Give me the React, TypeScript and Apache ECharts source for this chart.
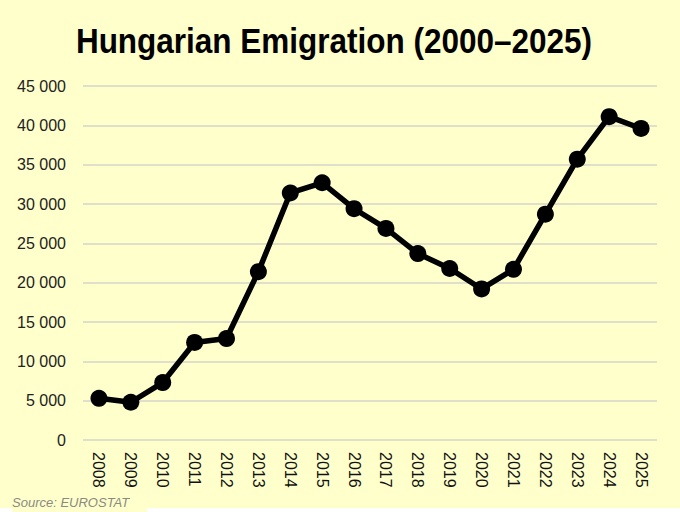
import React, { useEffect, useRef } from "react";
import * as echarts from "echarts";

const titleText = "Hungarian Emigration (2000–2025)";
const sourceText = "Source: EUROSTAT";
const years = ["2008", "2009", "2010", "2011", "2012", "2013", "2014", "2015", "2016", "2017", "2018", "2019", "2020", "2021", "2022", "2023", "2024", "2025"];
const emigrants = [5300, 4800, 7300, 12400, 12900, 21400, 31400, 32700, 29400, 26900, 23700, 21800, 19200, 21700, 28700, 35700, 41100, 39600];
const yMin = 0;
const yMax = 45000;
const yStep = 5000;

const fmt = (v: number) => String(v).replace(/\B(?=(\d{3})+(?!\d))/g, " ");

export default function App() {
  const ref = useRef<HTMLDivElement>(null);
  useEffect(() => {
    if (!ref.current) return;
    const chart = echarts.init(ref.current, undefined, { renderer: "svg" });
    chart.setOption({
      animation: false,
      backgroundColor: "#FFFFCC",
      grid: { left: 83, right: 23, top: 86, bottom: 72, containLabel: false },
      xAxis: {
        type: "category",
        data: years,
        boundaryGap: true,
        axisLine: { show: false },
        axisTick: { show: false },
        axisLabel: {
          rotate: -90,
          margin: 12,
          color: "#111",
          fontSize: 16,
          fontFamily: "Liberation Sans, Arial, sans-serif",
          interval: 0,
        },
      },
      yAxis: {
        type: "value",
        min: yMin,
        max: yMax,
        interval: yStep,
        axisLine: { show: false },
        axisTick: { show: false },
        splitLine: { lineStyle: { color: "#d4d4cc", width: 1.5 } },
        axisLabel: {
          margin: 17,
          color: "#222",
          fontSize: 16,
          fontFamily: "Liberation Sans, Arial, sans-serif",
          formatter: (v: number) => fmt(v),
        },
      },
      series: [
        {
          type: "line",
          data: emigrants,
          symbol: "circle",
          symbolSize: 17,
          lineStyle: { color: "#000", width: 5.5 },
          itemStyle: { color: "#000" },
          z: 3,
        },
      ],
      graphic: [
        {
          type: "text",
          x: 334,
          y: 41,
          scaleX: 0.9,
          style: {
            text: titleText,
            fontFamily: "Liberation Sans, Arial, sans-serif",
            fontWeight: "bold",
            fontSize: 35,
            fill: "#000",
            textAlign: "center",
            textVerticalAlign: "middle",
          },
        },
        {
          type: "text",
          x: 12,
          y: 502,
          style: {
            text: sourceText,
            fontFamily: "Liberation Sans, Arial, sans-serif",
            fontStyle: "italic",
            fontSize: 13,
            fill: "#8a8a80",
            textAlign: "left",
            textVerticalAlign: "middle",
          },
        },
        { type: "rect", shape: { x: 0, y: 508, width: 12, height: 4 }, style: { fill: "#ffffff" } },
        { type: "rect", shape: { x: 147, y: 508, width: 533, height: 4 }, style: { fill: "#ffffff" } },
      ],
    });
    return () => chart.dispose();
  }, []);
  return (
    <div
      ref={ref}
      style={{ position: "fixed", left: 0, top: 0, width: 680, height: 512 }}
    />
  );
}
